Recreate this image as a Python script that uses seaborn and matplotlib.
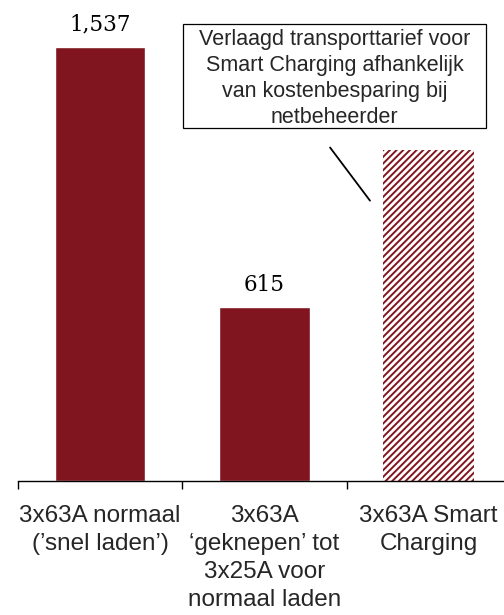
import numpy as np
import pandas as pd
import matplotlib
matplotlib.use("Agg")
import matplotlib.pyplot as plt
from matplotlib.patches import Rectangle
import seaborn as sns

# ---------------------------------------------------------
# DATA
# ---------------------------------------------------------
categories = [
    "3x63A normaal\n(’snel laden’)",
    "3x63A\n‘geknepen’ tot\n3x25A voor\nnormaal laden",
    "3x63A Smart\nCharging",
]
values = [1537, 615, 1170]
value_labels = ["1,537", "615", ""]
note_text = ("Verlaagd transporttarief voor\nSmart Charging afhankelijk\n"
             "van kostenbesparing bij\nnetbeheerder")

BAR_COLOR = "#80151F"

sns.set_style("white")
plt.rcParams["font.family"] = ["Liberation Sans", "DejaVu Sans"]
plt.rcParams["hatch.linewidth"] = 1.4

df = pd.DataFrame({"category": categories, "value": values})

fig = plt.figure(figsize=(5.04, 6.15), dpi=100)
ax = fig.add_axes([18 / 504, (615 - 481) / 615, 492.75 / 504, 481 / 615])

sns.barplot(data=df, x="category", y="value", color=BAR_COLOR,
            width=0.55, saturation=1, ax=ax)

# third bar: hatched, white background
smart = ax.patches[2]
smart.set_facecolor("white")
smart.set_edgecolor(BAR_COLOR)
smart.set_linewidth(0)
smart.set_hatch("/////")

for patch, lab in zip(ax.patches, value_labels):
    if not lab:
        continue
    ax.annotate(lab, (patch.get_x() + patch.get_width() / 2, patch.get_height()),
                xytext=(0, 8), textcoords="offset points",
                ha="center", va="bottom", fontsize=15.5,
                family=["DejaVu Serif"], color="black")

# callout box + leader line
ax.add_patch(Rectangle((0.505, 1249), 2.349 - 0.505, 1617 - 1249,
                       fc="white", ec="black", lw=0.9, zorder=3))
ax.text(1.427, 1424, note_text, ha="center", va="center", fontsize=15.5,
        linespacing=1.33, zorder=4)
ax.annotate("", xy=(1.643, 992), xytext=(1.40, 1180),
            arrowprops=dict(arrowstyle="-", color="black", lw=1.3,
                            shrinkA=0, shrinkB=0))

ax.set_xlim(-0.5, 2.5)
ax.set_ylim(0, 1702)
ax.set_xlabel("")
ax.set_ylabel("")
ax.set_yticks([])
for side in ["left", "right", "top"]:
    ax.spines[side].set_visible(False)
ax.spines["bottom"].set_color("black")
ax.spines["bottom"].set_linewidth(1.0)

ax.set_xticks(np.arange(len(categories)))
ax.set_xticklabels(categories, fontsize=17.5, linespacing=1.36)
ax.set_xticks(np.arange(len(categories) + 1) - 0.5, minor=True)
ax.tick_params(axis="x", which="major", length=0, pad=17)
ax.tick_params(axis="x", which="minor", bottom=True, length=6, width=1.0,
               color="black", direction="out")

fig.savefig("out.png", dpi=100)
